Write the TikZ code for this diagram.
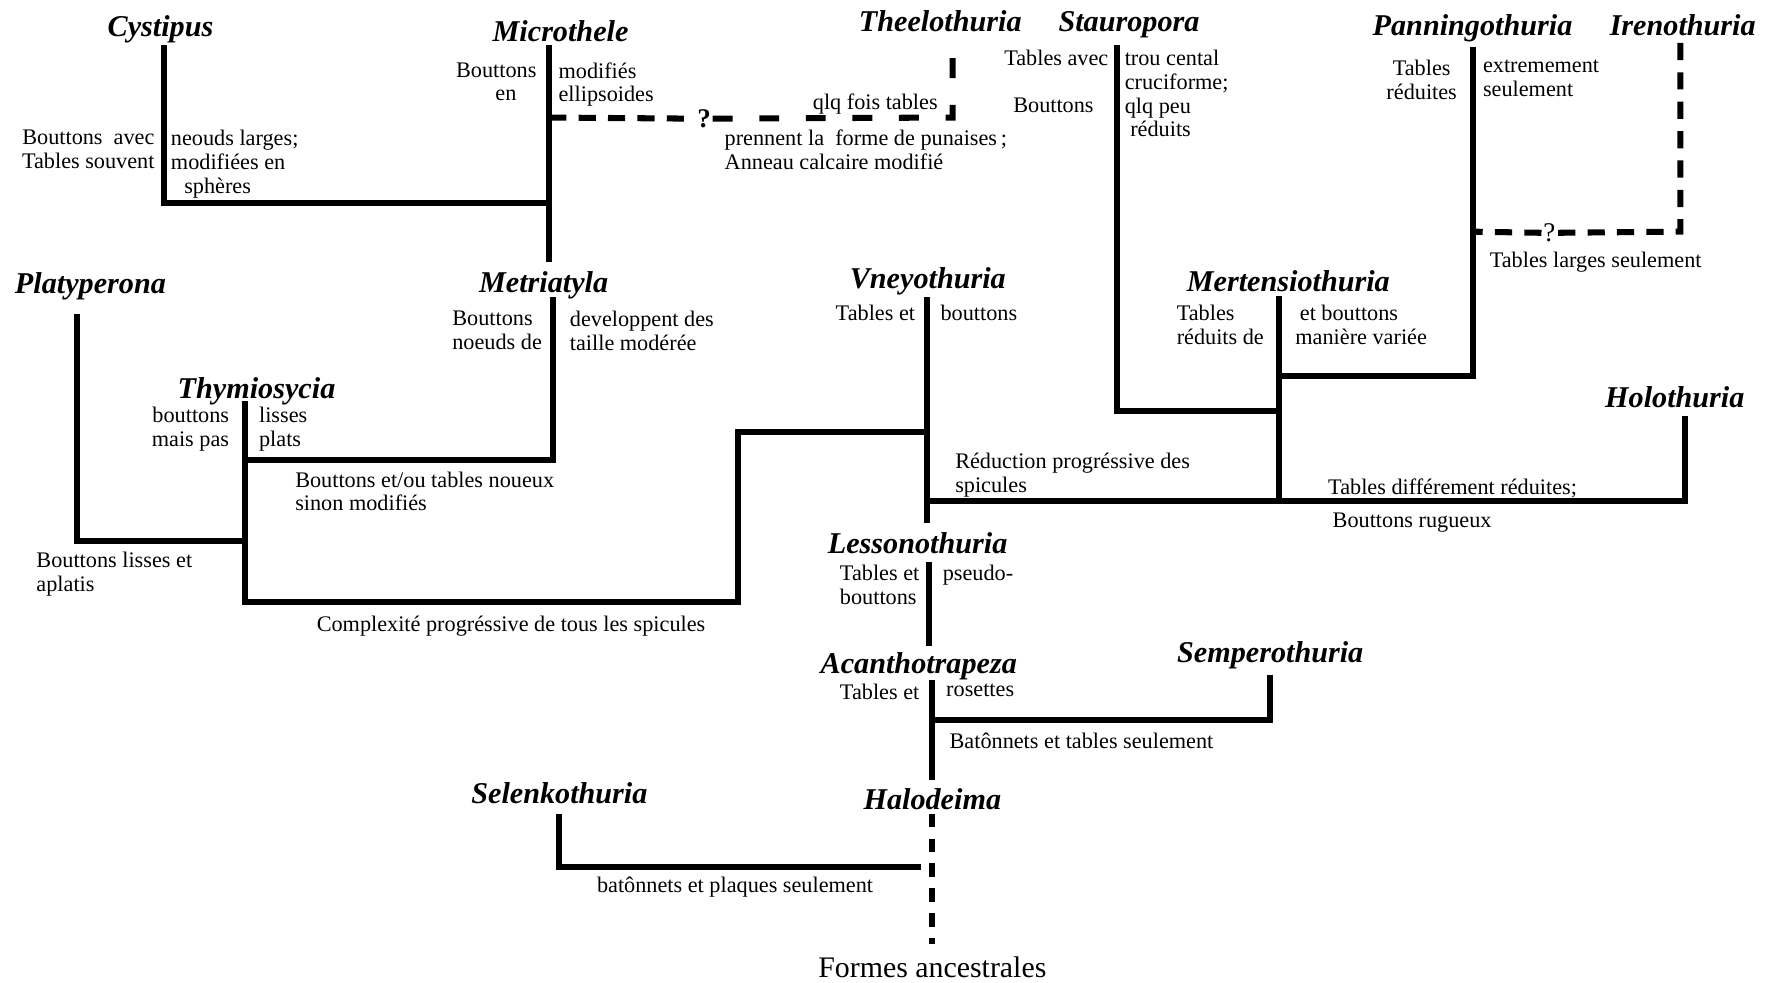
\documentclass[tikz,border=0pt]{standalone}
\usepackage{fontspec}
\setmainfont{Liberation Serif}
\begin{document}
\begin{tikzpicture}[x=0.25mm, y=-0.25mm,
  branch/.style={line width=3.8pt, line join=miter},
  guess/.style={branch, dash pattern=on 3.8mm off 2.7mm},
  wideguess/.style={branch, dash pattern=on 4.4mm off 5.9mm},
  taxon/.style={font=\fontsize{19}{22}\selectfont\bfseries\itshape, anchor=base, inner sep=0pt},
  qmark/.style={font=\fontsize{17}{20}\selectfont\bfseries, inner sep=1pt},
  note/.style={font=\fontsize{14}{15}\selectfont, inner sep=0pt, anchor=north west, align=left},
  notel/.style={note, anchor=north east, align=right}]
  \useasboundingbox (0,0) rectangle (1568,869);

  % taxa
  \foreach \n/\x/\y/\t in {cys/142/32/Cystipus, mic/496/37/Microthele, the/832/28/Theelothuria,
      sta/999/28/Stauropora, pan/1303/31/Panningothuria, ire/1489/31/Irenothuria,
      pla/80/260/Platyperona, met/481/259/Metriatyla, vne/821/255/Vneyothuria,
      mer/1140/258/Mertensiothuria, thy/227/353/Thymiosycia, hol/1482/361/Holothuria,
      les/812/490/Lessonothuria, aca/813/596/Acanthotrapeza, sem/1124/586/Semperothuria,
      sel/495/711/Selenkothuria, hal/825/716/Halodeima} {
    \node[taxon] (\n) at (\x,\y) {\t};
  }

  % branch points
  \foreach \n/\x/\y in {cy0/145/40, cy1/145/180, mi0/486/40, mi1/486/180, mi2/486/232,
      mi3/486/104, th0/843/33, th1/843/104, st0/988/40, st1/988/364,
      me0/1132/262, me1/1132/364, me2/1132/333, me3/1132/443,
      pa0/1303/42, pa1/1303/333, pa2/1303/205, ir0/1487/38, ir1/1487/205,
      ho0/1491/368, ho1/1491/443, vn0/820/263, vn1/820/382, vn2/820/443, vn3/820/463,
      le0/822/497, le1/822/572, ac0/825/602, ac1/825/637, ac2/825/690,
      se0/1124/597, se1/1124/637, ha0/825/720, ha2/825/835,
      sl0/495/720, sl1/495/767, sl2/815/767, mt0/489/263, mt1/489/407,
      ty0/217/355, ty1/217/407, ty2/217/479, ty3/217/533, cx0/653/533, cx1/653/382,
      pl0/68/278, pl1/68/479} {
    \coordinate (\n) at (\x,\y);
  }
  \node[qmark] (q1) at (623,105) {?};
  \node[qmark, font=\fontsize{17}{20}\selectfont] (q2) at (1371,206) {?};

  \draw[branch] (cy0) -- (cy1) -- (mi1);
  \draw[branch] (mi0) -- (mi2);
  \draw[guess] (mi3) -- (q1.west);
  \draw[wideguess] (q1.east) -- (th1) -- (th0);
  \draw[branch] (st0) -- (st1) -- (me1);
  \draw[branch] (pa0) -- (pa1) -- (me2);
  \draw[guess] (ir0) -- (ir1) -- (q2.east);
  \draw[guess] (q2.west) -- (pa2);
  \draw[branch] (me0) -- (me3);
  \draw[branch] (vn0) -- (vn3);
  \draw[branch] (vn2) -- (ho1) -- (ho0);
  \draw[branch] (mt0) -- (mt1) -- (ty1);
  \draw[branch] (ty0) -- (ty3) -- (cx0) -- (cx1) -- (vn1);
  \draw[branch] (pl0) -- (pl1) -- (ty2);
  \draw[branch] (le0) -- (le1);
  \draw[branch] (ac0) -- (ac2);
  \draw[branch] (se0) -- (se1) -- (ac1);
  \draw[guess, dash pattern=on 3mm off 2.5mm] (ha0) -- (ha2);
  \draw[branch] (sl0) -- (sl1) -- (sl2);

  % characters
  \node[notel] (n1) at (137,115) {Bouttons~~avec\\Tables souvent};
  \node[note] (n2) at (151,115) {neouds larges;\\modifiées en\\\hspace*{0.6em}sphères};
  \node[notel] (n3) at (475,55) {Bouttons\\en\hspace*{0.9em}};
  \node[note] (n4) at (494,55) {modifiés\\ellipsoides};
  \node[note, anchor=north east] (n5) at (830,83) {qlq fois tables};
  \node[note] (n6) at (641,115) {prennent la~~forme de punaises\,;\\Anneau calcaire modifié};
  \node[notel] (n7) at (981,44) {Tables avec};
  \node[notel] (n8) at (968,86) {Bouttons};
  \node[note] (n9) at (995,44) {trou cental\\cruciforme;\\qlq peu\\\hspace*{0.25em}réduits};
  \node[note, anchor=north, align=center] (n10) at (1258,53) {Tables\\réduites};
  \node[note] (n11) at (1312,53) {extremement\\seulement};
  \node[note] (n12) at (1318,223) {Tables larges seulement};
  \node[note] (n13) at (400,275) {Bouttons\\noeuds de};
  \node[note] (n14) at (504,275) {developpent des\\taille modérée};
  \node[notel] (n15) at (203,360) {bouttons\\mais pas};
  \node[note] (n16) at (229,360) {lisses\\plats};
  \node[note] (n17) at (261,417) {Bouttons et/ou tables noueux\\sinon modifiés};
  \node[note] (n18) at (32,488) {Bouttons lisses et\\aplatis};
  \node[note] (n19) at (280,545) {Complexité progréssive de tous les spicules};
  \node[notel] (n20) at (810,270) {Tables et};
  \node[note] (n21) at (832,270) {bouttons};
  \node[note] (n22) at (1041,270) {Tables\\réduits de};
  \node[note] (n23) at (1146,270) {\hspace*{0.2em}et bouttons\\manière variée};
  \node[note] (n24) at (845,401) {Réduction progréssive des\\spicules};
  \node[note] (n25) at (1175,423) {Tables différement réduites;};
  \node[note] (n26) at (1179,454) {Bouttons rugueux};
  \node[note] (n27) at (743,500) {Tables et\\bouttons};
  \node[note] (n28) at (834,500) {pseudo-};
  \node[note] (n29) at (743,605) {Tables et};
  \node[note] (n30) at (837,605) {rosettes};
  \node[note] (n31) at (840,648) {Batônnets et tables seulement};
  \node[note] (n32) at (528,776) {batônnets et plaques seulement};
  \node[font=\fontsize{18.8}{21}\selectfont, inner sep=0pt] (anc) at (825,856) {Formes ancestrales};
\end{tikzpicture}
\end{document}
